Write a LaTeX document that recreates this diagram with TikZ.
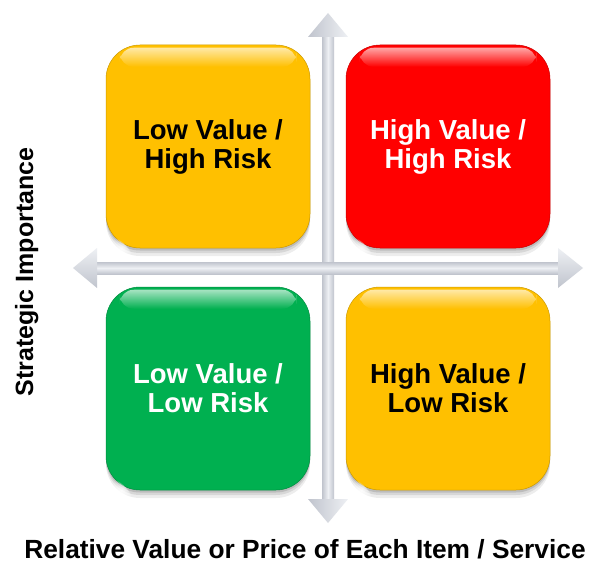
\documentclass[tikz,border=0pt]{standalone}
\usepackage{fontspec}
\setmainfont{Liberation Sans}
\usetikzlibrary{fadings}
\definecolor{amber}{RGB}{255,192,0}
\definecolor{qred}{RGB}{255,0,0}
\definecolor{qgreen}{RGB}{0,176,80}
\definecolor{axisgray}{RGB}{192,196,205}
\definecolor{axislight}{RGB}{238,240,244}
\tikzfading[name=glossfade, top color=transparent!35, bottom color=transparent!100]
\tikzfading[name=glintfade, inner color=transparent!0, outer color=transparent!100]
\tikzset{
  quad/.style={rounded corners=34pt, minimum width=204pt, minimum height=203pt,
    inner sep=0pt, align=center, font=\fontsize{27.5}{29}\selectfont\bfseries,
    fill=#1, draw=#1!80!black, line width=0.5pt,
    preaction={fill=black, opacity=.07, transform canvas={yshift=-8pt}},
    preaction={fill=black, opacity=.09, transform canvas={yshift=-5pt}},
    preaction={fill=black, opacity=.12, transform canvas={yshift=-2.5pt}}},
  axislabel/.style={font=\fontsize{#1}{27}\selectfont\bfseries, inner sep=0pt, anchor=base},
  gloss/.style={white, path fading=glossfade, rounded corners=14pt},
  glint/.style={white, path fading=glintfade},
}
\begin{document}
\begin{tikzpicture}[x=1pt,y=1pt]
\fill[white] (0,0) rectangle (591,563);
\useasboundingbox (0,0) rectangle (591,563);

% axis end points
\coordinate (vtop) at (328,550);
\coordinate (vbot) at (328,40);
\coordinate (hleft) at (73,295);
\coordinate (hright) at (583,295);

% vertical axis
\shade[left color=axisgray, right color=axisgray, middle color=axislight]
  ([xshift=-6pt,yshift=-23pt]vtop) rectangle ([xshift=6pt,yshift=23pt]vbot);
\shade[left color=axisgray, right color=axislight] (vtop) -- ++(-20,-24) -- ++(40,0) -- cycle;
\shade[left color=axisgray, right color=axislight] (vbot) -- ++(-20,24) -- ++(40,0) -- cycle;
% horizontal axis
\shade[top color=axisgray, bottom color=axisgray, middle color=axislight]
  ([xshift=23pt,yshift=-6pt]hleft) rectangle ([xshift=-23pt,yshift=6pt]hright);
\shade[top color=axislight, bottom color=axisgray] (hleft) -- ++(24,20) -- ++(0,-40) -- cycle;
\shade[top color=axislight, bottom color=axisgray] (hright) -- ++(-25,20) -- ++(0,-40) -- cycle;

% quadrants
\node[quad=amber, text=black] (tl) at (208,416.5) {Low Value /\\High Risk};
\node[quad=qred, text=white] (tr) at (448,416.5) {High Value /\\High Risk};
\node[quad=qgreen, text=white] (bl) at (208,174.5) {Low Value /\\Low Risk};
\node[quad=amber, text=black] (br) at (448,174.5) {High Value /\\Low Risk};

% gloss highlights
\foreach \q in {tl,tr,bl,br}{
  \fill[gloss] ([xshift=14pt,yshift=-3pt]\q.north west) rectangle ([xshift=-14pt,yshift=-22pt]\q.north east);
  \fill[glint, opacity=.9, rotate around={-45:([xshift=11pt,yshift=11pt]\q.south west)}]
    ([xshift=11pt,yshift=11pt]\q.south west) ellipse [x radius=15pt, y radius=5pt];
}

% axis labels
\node[axislabel=26.3] (xlab) at (305,5) {Relative Value or Price of Each Item / Service};
\node[axislabel=25, rotate=90] (ylab) at (33,291) {Strategic Importance};
\end{tikzpicture}
\end{document}
